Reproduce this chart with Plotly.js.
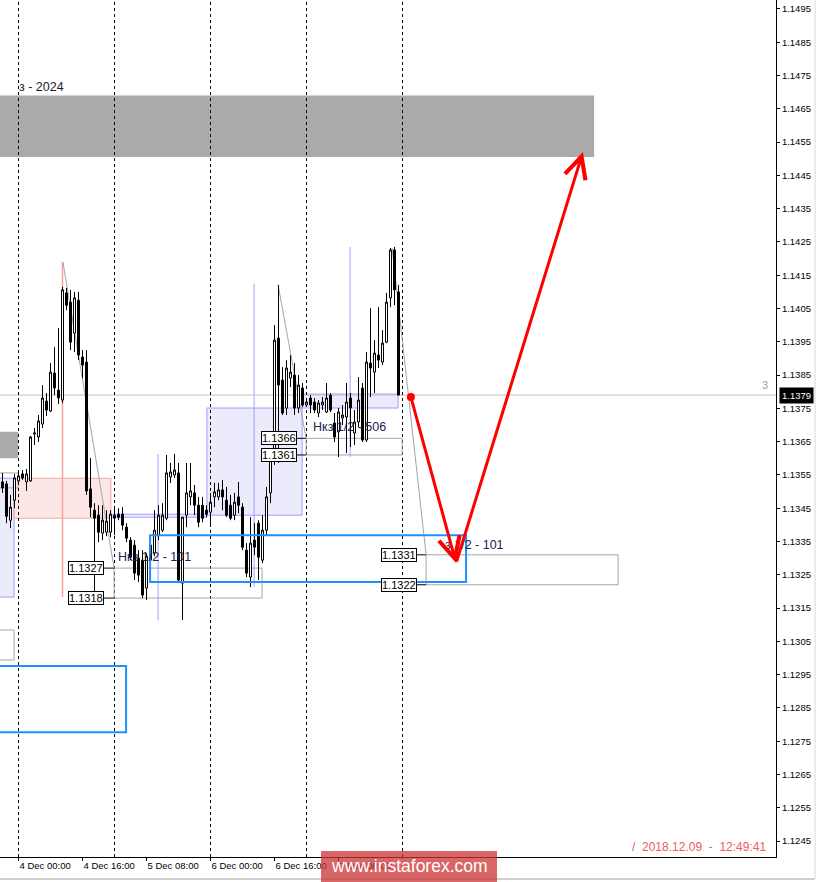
<!DOCTYPE html>
<html><head><meta charset="utf-8">
<script src="https://cdn.plot.ly/plotly-3.0.1.min.js"></script>
<style>html,body{margin:0;padding:0;background:#fff;overflow:hidden}#chart{width:817px;height:882px}</style>
</head><body><div id="chart"></div>
<script>
// EURUSD H1, candle slots (1 slot = 1 hour), slot 4 = 4 Dec 00:00
const open = [1.13529,1.13523,1.13414,1.13474,1.13532,1.13553,1.13529,1.13532,1.13673,1.13664,
1.13703,1.13772,1.13742,1.13856,1.13805,1.13775,1.14097,1.14069,1.13976,1.14075,
1.13904,1.13889,1.13508,1.13444,1.13429,1.13375,1.13378,1.13378,1.13429,1.13432,
1.13432,1.13393,1.13354,1.13339,1.13300,1.13294,1.13210,1.13294,1.13315,1.13369,
1.13384,1.13420,1.13544,1.13550,1.13556,1.13225,1.13429,1.13484,1.13496,1.13459,
1.13459,1.13444,1.13438,1.13484,1.13484,1.13505,1.13474,1.13459,1.13429,1.13484,
1.13453,1.13324,1.13243,1.13354,1.13405,1.13294,1.13384,1.13496,1.13595,1.13961,
1.13835,1.13751,1.13841,1.13850,1.13751,1.13811,1.13760,1.13781,1.13769,1.13736,
1.13760,1.13739,1.13790,1.13706,1.13679,1.13721,1.13724,1.13781,1.13676,1.13709,
1.13811,1.13655,1.13886,1.13859,1.13910,1.13889,1.13949,1.14082,1.14226,1.14100];
const high = [1.13556,1.13532,1.13490,1.13553,1.13556,1.13565,1.13568,1.13667,1.13691,1.13730,
1.13820,1.13796,1.13886,1.13934,1.13991,1.14115,1.14112,1.14106,1.14100,1.14100,
1.13925,1.13925,1.13601,1.13465,1.13459,1.13459,1.13444,1.13444,1.13450,1.13450,
1.13453,1.13405,1.13363,1.13354,1.13324,1.13324,1.13315,1.13354,1.13444,1.13459,
1.13465,1.13610,1.13586,1.13613,1.13586,1.13423,1.13586,1.13586,1.13520,1.13484,
1.13484,1.13459,1.13496,1.13526,1.13526,1.13535,1.13514,1.13490,1.13496,1.13529,
1.13465,1.13345,1.13423,1.13405,1.13414,1.13429,1.13514,1.13616,1.14000,1.14121,
1.13874,1.13895,1.13910,1.13886,1.13850,1.13826,1.13781,1.13790,1.13781,1.13775,
1.13784,1.13826,1.13796,1.13736,1.13751,1.13760,1.13826,1.13796,1.13745,1.13844,
1.13826,1.13919,1.14051,1.13955,1.14054,1.13985,1.14097,1.14232,1.14235,1.14121];
const low = [1.13496,1.13405,1.13390,1.13450,1.13520,1.13535,1.13502,1.13529,1.13640,1.13649,
1.13691,1.13727,1.13739,1.13790,1.13763,1.13766,1.14045,1.13925,1.13919,1.13895,
1.13841,1.13490,1.13423,1.13198,1.13348,1.13354,1.13366,1.13363,1.13369,1.13414,
1.13384,1.13348,1.13294,1.13234,1.13228,1.13180,1.13174,1.13249,1.13306,1.13354,
1.13378,1.13414,1.13526,1.13541,1.13225,1.13114,1.13393,1.13459,1.13429,1.13393,
1.13408,1.13423,1.13399,1.13453,1.13474,1.13444,1.13423,1.13414,1.13414,1.13435,
1.13324,1.13243,1.13213,1.13309,1.13234,1.13285,1.13369,1.13465,1.13580,1.13586,
1.13730,1.13730,1.13814,1.13730,1.13736,1.13754,1.13754,1.13736,1.13736,1.13724,
1.13745,1.13736,1.13739,1.13649,1.13604,1.13700,1.13616,1.13634,1.13640,1.13694,
1.13649,1.13649,1.13784,1.13796,1.13871,1.13880,1.13946,1.14054,1.14060,1.13790];
const close = [1.13511,1.13426,1.13453,1.13541,1.13547,1.13541,1.13553,1.13664,1.13676,1.13712,
1.13781,1.13745,1.13859,1.13811,1.13781,1.14106,1.14060,1.13949,1.14082,1.13910,
1.13880,1.13502,1.13453,1.13420,1.13378,1.13414,1.13411,1.13432,1.13420,1.13423,
1.13399,1.13360,1.13303,1.13255,1.13249,1.13189,1.13306,1.13339,1.13384,1.13429,
1.13429,1.13556,1.13559,1.13565,1.13234,1.13423,1.13496,1.13502,1.13459,1.13408,
1.13420,1.13432,1.13468,1.13499,1.13505,1.13484,1.13429,1.13420,1.13468,1.13459,
1.13333,1.13255,1.13345,1.13333,1.13303,1.13384,1.13484,1.13595,1.13955,1.13820,
1.13736,1.13871,1.13859,1.13751,1.13820,1.13760,1.13769,1.13760,1.13745,1.13766,
1.13769,1.13781,1.13745,1.13664,1.13739,1.13730,1.13769,1.13751,1.13709,1.13775,
1.13655,1.13889,1.13871,1.13916,1.13895,1.13946,1.14069,1.14226,1.14106,1.13790];
const slot = open.map((_, i) => i);

const xTickIdx = [4, 20, 36, 52, 68, 84];
const xTickText = ['4 Dec 00:00','4 Dec 16:00','5 Dec 08:00','6 Dec 00:00','6 Dec 16:00','7 Dec 08:00'];
const daySeparators = [4, 28, 52, 76, 100];
const yTickText = ['1.1245','1.1255','1.1265','1.1275','1.1285','1.1295','1.1305','1.1315','1.1325','1.1335',
'1.1345','1.1355','1.1365','1.1375','1.1385','1.1395','1.1405','1.1415','1.1425','1.1435','1.1445',
'1.1455','1.1465','1.1475','1.1485','1.1495'];
const yTickVals = yTickText.map(Number);
const bidPrice = 1.1379;

// drawn levels (prices) and their time extents (slots)
const levelPrices = [[1.1318, 1.1327], [1.1361, 1.1366], [1.1322, 1.1331]];
const levelSlots = [[27.9, 64.9], [75.9, 99.9], [105.9, 153.9]];
const levelLabelSlot = [25.4, 73.6, 103.6];
const zigzagFrom = [[15.1, 1.14190], [68.9, 1.14121], [97.4, 1.14232]];
const forecastSlot = [102.1, 113.4, 145.1];
const forecastPrice = [1.13784, 1.13285, 1.14520];

const FONT = 'Liberation Sans, Arial, sans-serif';
const shapes = [];
function rect(x0, x1, y0, y1, fill, line, lw, layer) {
  shapes.push({type:'rect', xref:'x', yref:'y', x0, x1, y0, y1, fillcolor: fill || 'rgba(0,0,0,0)',
    line:{color: line || 'rgba(0,0,0,0)', width: line ? (lw || 1) : 0}, layer: layer || 'below'});
}
function seg(x0, y0, x1, y1, color, w, dash, layer) {
  shapes.push({type:'line', xref:'x', yref:'y', x0, y0, x1, y1, line:{color, width:w || 1, dash: dash || 'solid'}, layer: layer || 'below'});
}
const LAV_FILL = '#ebebfc', LAV_LINE = '#9e9eff', GRAY = '#a6a6a6';
// zones
rect(-5, 147.9, 1.14505, 1.1469, '#aaaaaa');
rect(-5, 3.875, 1.1360, 1.1368, '#aaaaaa');
rect(-5, 2.9, 1.13183, 1.1354, LAV_FILL, LAV_LINE);
rect(21.9, 51.1, 1.13423, 1.13432, LAV_FILL, LAV_LINE);
rect(51.1, 74.9, 1.13429, 1.13751, LAV_FILL, LAV_LINE);
rect(74.9, 98.9, 1.13751, 1.13793, LAV_FILL, LAV_LINE);
rect(2.9, 27.1, 1.1342, 1.1354, 'rgba(253,226,226,0.85)', '#f6a6a6');
seg(15, 1.13183, 15, 1.14190, '#f6a0a0', 1.5);
seg(38.9, 1.13114, 38.9, 1.13613, LAV_LINE, 1);
seg(62.9, 1.13213, 62.9, 1.14124, LAV_LINE, 1);
seg(86.9, 1.13604, 86.9, 1.14235, LAV_LINE, 1);
rect(-5, 2.9, 1.12994, 1.13084, null, GRAY, 1);
rect(-5, 3.9, 1.13511, 1.13556, null, GRAY, 1);
// bid line
seg(-5, bidPrice, 200, bidPrice, '#c0c0c0', 1);
// day separators
daySeparators.forEach(s => seg(s, 1.12402, s, 1.14977, '#000', 1, '3px,3px'));
// levels
levelPrices.forEach((p, i) => {
  rect(levelSlots[i][0], levelSlots[i][1], p[0], p[1], null, GRAY, 1);
  seg(levelLabelSlot[i], p[0], levelSlots[i][0], p[0], '#000', 1);
  seg(levelLabelSlot[i], p[1], levelSlots[i][0], p[1], '#000', 1);
  seg(zigzagFrom[i][0], zigzagFrom[i][1], levelSlots[i][0], p[1], GRAY, 1);
});
// blue boxes
rect(36.9, 115.9, 1.13228, 1.13369, null, '#1e90ff', 2, 'above');
rect(-5, 30.9, 1.12777, 1.12976, null, '#1e90ff', 2, 'above');
// frame / watermark box (paper)
shapes.push({type:'line', xref:'paper', yref:'paper', x0:0, x1:815/776, y0:-22/857, y1:-22/857, line:{color:'#a0a0a0', width:1}, layer:'above'});
shapes.push({type:'line', xref:'paper', yref:'paper', x0:815/776, x1:815/776, y0:1, y1:-22/857, line:{color:'#d8d8d8', width:1}, layer:'above'});
shapes.push({type:'rect', xref:'paper', yref:'paper', x0:321/776, x1:497/776, y0:6/857, y1:-26/857, fillcolor:'rgba(204,51,51,0.75)', line:{width:0}, layer:'above'});

const TXT = '#23234f';
const annotations = [];
levelPrices.forEach((p, i) => {
  p.forEach(v => annotations.push({x: levelLabelSlot[i], y: v, xref:'x', yref:'y', xanchor:'right', yanchor:'middle',
    text: v.toFixed(4), showarrow:false, font:{family:FONT, size:11, color:'#000'}, bgcolor:'#fff', bordercolor:'#000', borderwidth:1, borderpad:0}));
});
annotations.push({x:3.6, y:1.14716, xref:'x', yref:'y', xanchor:'left', yanchor:'middle', text:'з - 2024', showarrow:false, font:{family:FONT, size:12.5, color:'#1a1a2a'}});
annotations.push({x:77.1, y:1.13694, xref:'x', yref:'y', xanchor:'left', yanchor:'middle', text:'Нкз 1/2 - 506', showarrow:false, font:{family:FONT, size:12.5, color:TXT}});
annotations.push({x:47.6, y:1.13303, xref:'x', yref:'y', xanchor:'right', yanchor:'middle', text:'Нкз 1/2 - 101', showarrow:false, font:{family:FONT, size:12.5, color:TXT}});
annotations.push({x:110.1, y:1.13339, xref:'x', yref:'y', xanchor:'left', yanchor:'middle', text:'з 1/2 - 101', showarrow:false, font:{family:FONT, size:12.5, color:TXT}});
// forecast arrows
for (let i = 0; i < forecastSlot.length - 1; i++) {
  annotations.push({x: forecastSlot[i+1], y: forecastPrice[i+1], ax: forecastSlot[i], ay: forecastPrice[i],
    xref:'x', yref:'y', axref:'x', ayref:'y', text:'', showarrow:true, arrowhead:5, arrowsize:1.4, arrowwidth:3, arrowcolor:'#ff0000', standoff:0, startstandoff:0});
}
// price box & misc text
annotations.push({x:1, xref:'paper', y:bidPrice, yref:'y', xanchor:'left', yanchor:'middle', xshift:3, text:bidPrice.toFixed(4), showarrow:false,
  font:{family:FONT, size:9.5, color:'#fff'}, bgcolor:'#000', borderpad:2});
annotations.push({x:765/776, xref:'paper', y:(857-385)/857, yref:'paper', xanchor:'center', yanchor:'middle', text:'3', showarrow:false, font:{family:FONT, size:11, color:'#a0a0a0'}});
annotations.push({x:768/776, xref:'paper', y:(857-847)/857, yref:'paper', xanchor:'right', yanchor:'middle', text:'/  2018.12.09  -  12:49:41', showarrow:false, font:{family:FONT, size:12, color:'#f05a64'}});
annotations.push({x:409/776, xref:'paper', y:(857-866)/857, yref:'paper', xanchor:'center', yanchor:'middle', text:'www.instaforex.com', showarrow:false, font:{family:FONT, size:17.5, color:'#ffffff'}});

const traces = [
  {type:'candlestick', x: slot, open, high, low, close, whiskerwidth:0,
   increasing:{line:{color:'#000', width:1}, fillcolor:'#ffffff'},
   decreasing:{line:{color:'#000', width:1}, fillcolor:'#000000'}, hoverinfo:'skip'},
  {type:'scatter', mode:'markers', x:[forecastSlot[0]], y:[forecastPrice[0]], marker:{color:'#ff0000', size:8}, hoverinfo:'skip'}
];

const layout = {
  width:817, height:882, margin:{l:0, r:41, t:0, b:25, pad:0},
  paper_bgcolor:'#ffffff', plot_bgcolor:'#ffffff', showlegend:false, hovermode:false, boxgap:0.28,
  xaxis:{range:[-0.625, 193.375], showgrid:false, zeroline:false, showline:true, linecolor:'#000', linewidth:1,
    tickmode:'array', tickvals:xTickIdx, ticktext:xTickText, ticks:'outside', ticklen:3, tickcolor:'#000',
    ticklabelposition:'outside right', tickfont:{family:FONT, size:9.5, color:'#000'}, rangeslider:{visible:false}, fixedrange:true},
  yaxis:{range:[1.12402, 1.14977], side:'right', showgrid:false, zeroline:false, showline:true, linecolor:'#000', linewidth:1,
    tickmode:'array', tickvals:yTickVals, ticktext:yTickText, ticks:'outside', ticklen:3, tickcolor:'#000',
    tickfont:{family:FONT, size:9.5, color:'#000'}, fixedrange:true},
  shapes, annotations
};
Plotly.newPlot('chart', traces, layout, {staticPlot:true, displayModeBar:false});
</script></body></html>
